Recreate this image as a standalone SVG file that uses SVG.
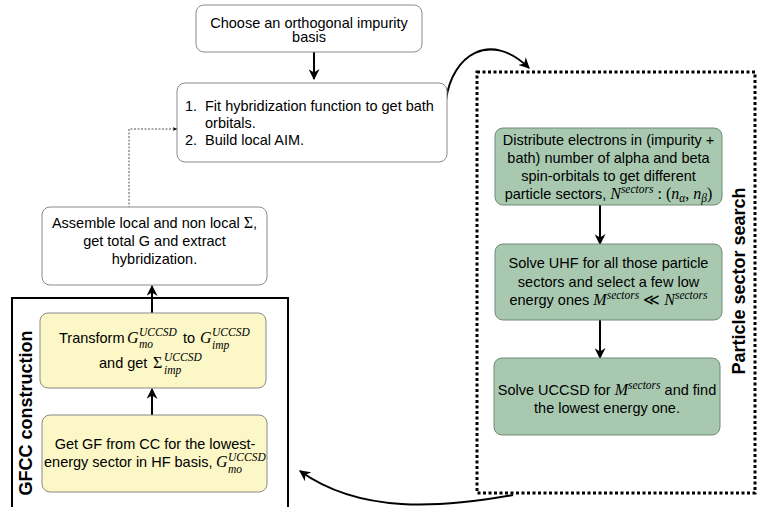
<svg xmlns="http://www.w3.org/2000/svg" width="761" height="507" viewBox="0 0 761 507">
<style>
.t{font-family:"Liberation Sans",Arial,sans-serif;font-size:14.5px;fill:#000}
.c{text-anchor:middle}
.b{font-weight:bold;font-size:18px}
.m{font-family:"Liberation Serif","Times New Roman",serif;font-style:italic;font-size:16px}
.mu{font-family:"Liberation Serif","Times New Roman",serif;font-style:normal;font-size:16px}
.s{font-family:"Liberation Serif","Times New Roman",serif;font-style:italic;font-size:11.5px}
.w{fill:#fff;stroke:#8a8a8a;stroke-width:1}
.y{fill:#fbf7c6;stroke:#8a8a8a;stroke-width:1}
.g{fill:#a8c9b0;stroke:#6e8a75;stroke-width:1}
.e{fill:none;stroke:#000;stroke-width:2}
</style>
<defs>
<marker id="ahb" viewBox="0 0 10 10" refX="9" refY="5" markerWidth="11" markerHeight="11" orient="auto" markerUnits="userSpaceOnUse">
<path d="M0,0 L10,5 L0,10 L3,5 Z" fill="#000"/>
</marker>
<marker id="ahs" viewBox="0 0 10 10" refX="9" refY="5" markerWidth="5" markerHeight="5" orient="auto" markerUnits="userSpaceOnUse">
<path d="M0,1 L10,5 L0,9 L3,5 Z" fill="#000"/>
</marker>
</defs>

<g id="frames">
<path d="M12,507 V298 H288 V507" fill="none" stroke="#000" stroke-width="2"/>
<text class="t b c" transform="translate(32,413) rotate(-90)">GFCC construction</text>
<rect x="477" y="72" width="278" height="421" fill="none" stroke="#000" stroke-width="3" stroke-dasharray="3 2.5"/>
<text class="t b c" transform="translate(745,281) rotate(-90)">Particle sector search</text>
</g>

<g id="connectors">
<line x1="314" y1="52" x2="314" y2="79" class="e" marker-end="url(#ahb)"/>
<polyline points="129,208 129,129 177,129" fill="none" stroke="#555" stroke-width="1" stroke-dasharray="2 1.5" marker-end="url(#ahs)"/>
<line x1="152" y1="313" x2="152" y2="286" class="e" marker-end="url(#ahb)"/>
<line x1="152" y1="415" x2="152" y2="389" class="e" marker-end="url(#ahb)"/>
<line x1="600" y1="205" x2="600" y2="244" class="e" marker-end="url(#ahb)"/>
<line x1="600" y1="320" x2="600" y2="358" class="e" marker-end="url(#ahb)"/>
<path d="M446,100 C452,55 490,30 529,68" class="e" marker-end="url(#ahb)"/>
<path d="M513,495 C440,508 360,514 300,471" class="e" marker-end="url(#ahb)"/>
</g>

<g id="choose">
<rect x="196" y="5" width="226" height="47" rx="8" class="w"/>
<text class="t c" x="309" y="27.5">Choose an orthogonal impurity</text>
<text class="t c" x="309" y="42">basis</text>
</g>

<g id="fit">
<rect x="177" y="83" width="270" height="79" rx="8" class="w"/>
<text class="t" x="185" y="111">1.</text>
<text class="t" x="205" y="111">Fit hybridization function to get bath</text>
<text class="t" x="205" y="128">orbitals.</text>
<text class="t" x="185" y="145">2.</text>
<text class="t" x="205" y="145">Build local AIM.</text>
</g>

<g id="assemble">
<rect x="42" y="207" width="225" height="78" rx="8" class="w"/>
<text class="t c" x="154.5" y="228">Assemble local and non local <tspan class="mu">Σ</tspan>,</text>
<text class="t c" x="154.5" y="246">get total G and extract</text>
<text class="t c" x="154.5" y="264">hybridization.</text>
</g>

<g id="transform">
<rect x="40" y="313" width="226" height="75" rx="8" class="y"/>
<text class="t" x="59" y="343">Transform</text>
<text class="m" x="127" y="343">G</text>
<text class="s" x="139" y="336">UCCSD</text>
<text class="s" x="139" y="348">mo</text>
<text class="t" x="183" y="343">to</text>
<text class="m" x="200" y="343">G</text>
<text class="s" x="212" y="336">UCCSD</text>
<text class="s" x="212" y="349">imp</text>
<text class="t" x="99" y="368">and get</text>
<text class="mu" x="153" y="368">Σ</text>
<text class="s" x="164" y="361">UCCSD</text>
<text class="s" x="164" y="374">imp</text>
</g>

<g id="getgf">
<rect x="42" y="415" width="225" height="77" rx="8" class="y"/>
<text class="t c" x="155" y="449">Get GF from CC for the lowest-</text>
<text class="t" x="44" y="467">energy sector in HF basis,</text>
<text class="m" x="216" y="467">G</text>
<text class="s" x="228" y="461">UCCSD</text>
<text class="s" x="228" y="473">mo</text>
</g>

<g id="distribute">
<rect x="495" y="128" width="227" height="77" rx="8" class="g"/>
<text class="t c" x="608.5" y="145">Distribute electrons in (impurity +</text>
<text class="t c" x="608.5" y="163">bath) number of alpha and beta</text>
<text class="t c" x="608.5" y="181">spin-orbitals to get different</text>
<text class="t c" x="608.5" y="199">particle sectors, <tspan class="m">N</tspan><tspan class="s" dy="-6">sectors</tspan><tspan class="mu" dy="6"> : (</tspan><tspan class="m">n</tspan><tspan class="s" dy="3">α</tspan><tspan class="mu" dy="-3">, </tspan><tspan class="m">n</tspan><tspan class="s" dy="3">β</tspan><tspan class="mu" dy="-3">)</tspan></text>
</g>

<g id="uhf">
<rect x="495" y="244" width="227" height="76" rx="8" class="g"/>
<text class="t c" x="608.5" y="268">Solve UHF for all those particle</text>
<text class="t c" x="608.5" y="286.5">sectors and select a few low</text>
<text class="t c" x="608.5" y="305">energy ones <tspan class="m">M</tspan><tspan class="s" dy="-6">sectors</tspan><tspan class="mu" dy="6"> ≪ </tspan><tspan class="m">N</tspan><tspan class="s" dy="-6">sectors</tspan></text>
</g>

<g id="uccsd">
<rect x="494" y="358" width="226" height="77" rx="8" class="g"/>
<text class="t c" x="607" y="395">Solve UCCSD for <tspan class="m">M</tspan><tspan class="s" dy="-6">sectors</tspan><tspan dy="6"> and find</tspan></text>
<text class="t c" x="607" y="413">the lowest energy one.</text>
</g>
</svg>
